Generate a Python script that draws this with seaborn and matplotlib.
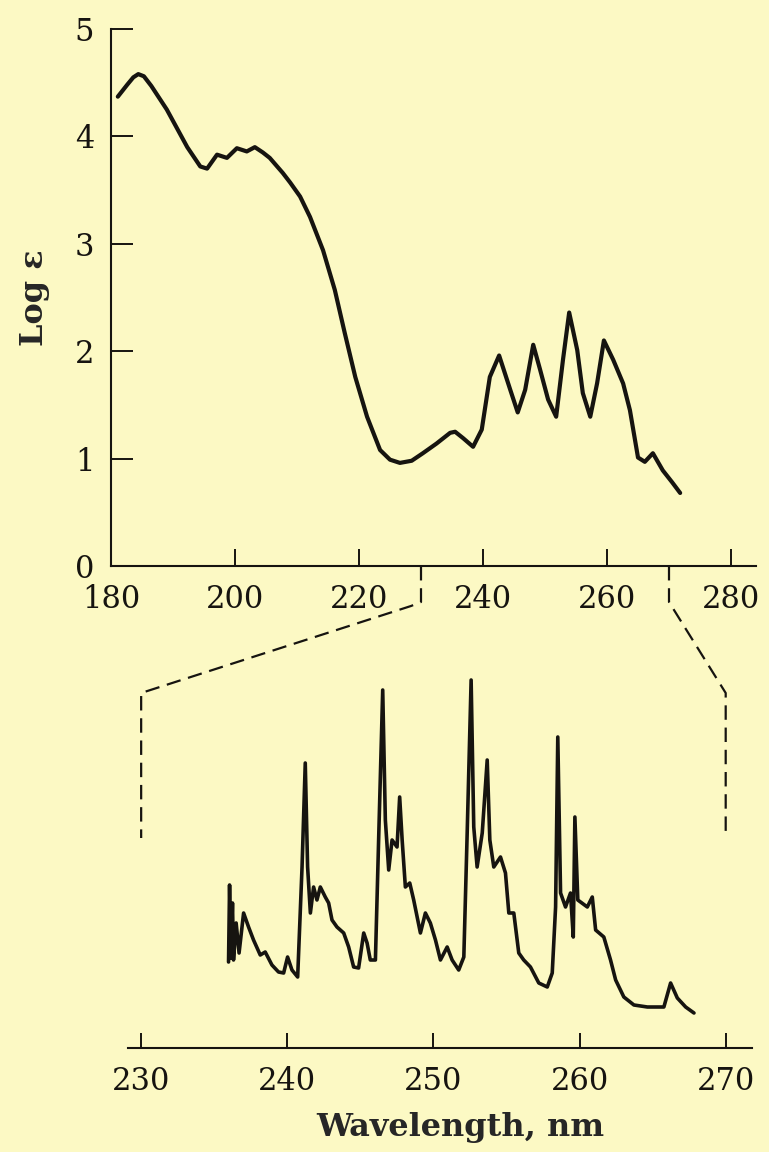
import numpy as np
import pandas as pd
import matplotlib
matplotlib.use("Agg")
import matplotlib.pyplot as plt
from matplotlib.lines import Line2D
import seaborn as sns

# ---------------- data ----------------
# Top panel: log(epsilon) vs wavelength (nm), solution spectrum
top_nm = [181.1, 182.6, 183.6, 184.4, 185.3, 186.5, 189.0, 192.3, 194.4, 195.5,
          197.1, 198.7, 200.3, 201.9, 203.2, 204.5, 205.6, 207.7, 208.9, 210.5,
          212.1, 214.2, 216.1, 217.7, 219.4, 221.3, 223.4, 225.0, 226.6, 228.5,
          230.3, 232.5, 234.7, 235.5, 236.8, 238.4, 239.8, 241.1, 242.6, 244.4,
          245.6, 246.8, 248.1, 249.2, 250.5, 251.8, 252.9, 253.9, 255.2, 256.1,
          257.3, 258.4, 259.5, 261.0, 262.6, 263.7, 265.0, 266.1, 267.4, 269.0,
          270.5, 271.8]
top_loge = [4.37, 4.48, 4.55, 4.58, 4.56, 4.47, 4.25, 3.90, 3.72, 3.70,
            3.83, 3.80, 3.89, 3.86, 3.90, 3.85, 3.80, 3.66, 3.57, 3.44,
            3.25, 2.94, 2.57, 2.17, 1.76, 1.39, 1.08, 0.99, 0.96, 0.98,
            1.05, 1.14, 1.24, 1.25, 1.19, 1.11, 1.27, 1.76, 1.96, 1.64,
            1.43, 1.64, 2.06, 1.83, 1.55, 1.39, 1.92, 2.36, 2.01, 1.61,
            1.39, 1.70, 2.10, 1.92, 1.70, 1.45, 1.01, 0.97, 1.05, 0.89,
            0.78, 0.68]

# Bottom panel: vapour spectrum (relative absorbance, arbitrary units)
vap_nm = [235.98, 236.05, 236.14, 236.25, 236.32, 236.50, 236.70, 237.01, 237.35, 237.69,
          238.15, 238.49, 238.95, 239.40, 239.75, 240.02, 240.32, 240.71, 241.01, 241.23,
          241.39, 241.58, 241.80, 242.03, 242.26, 242.60, 242.83, 243.06, 243.40, 243.86,
          244.20, 244.54, 244.88, 245.23, 245.46, 245.68, 246.03, 246.25, 246.53, 246.71,
          246.94, 247.17, 247.51, 247.69, 247.86, 248.08, 248.38, 248.65, 249.11, 249.45,
          249.79, 250.14, 250.48, 250.94, 251.28, 251.73, 252.08, 252.31, 252.58, 252.76,
          252.99, 253.34, 253.68, 253.86, 254.13, 254.59, 254.93, 255.16, 255.50, 255.84,
          256.18, 256.64, 257.21, 257.79, 258.13, 258.36, 258.51, 258.70, 259.04, 259.38,
          259.57, 259.68, 259.88, 260.53, 260.87, 261.10, 261.66, 262.12, 262.47, 263.03,
          263.72, 264.64, 265.77, 266.23, 266.69, 267.26, 267.83]
vap_abs = [8.6, 16.3, 9.0, 14.5, 8.8, 12.5, 9.5, 13.5, 12.1, 10.8,
           9.3, 9.6, 8.3, 7.6, 7.5, 9.1, 7.8, 7.1, 18.1, 28.5,
           18.1, 13.5, 16.1, 14.8, 16.1, 15.1, 14.5, 12.8, 12.1, 11.5,
           10.1, 8.1, 8.0, 11.5, 10.5, 8.8, 8.8, 20.8, 35.8, 22.8,
           17.8, 20.8, 20.1, 25.1, 20.8, 16.1, 16.5, 14.8, 11.5, 13.5,
           12.5, 10.8, 8.8, 10.1, 8.8, 7.8, 9.1, 21.5, 36.8, 22.1,
           18.1, 21.5, 28.8, 20.8, 18.1, 19.1, 17.5, 13.5, 13.5, 9.5,
           8.8, 8.1, 6.5, 6.1, 7.5, 14.1, 31.1, 15.5, 14.1, 15.5,
           11.1, 23.1, 14.8, 14.1, 15.1, 11.8, 11.1, 8.8, 6.8, 5.1,
           4.3, 4.1, 4.1, 6.5, 5.0, 4.1, 3.5]

top_xticks = [180, 200, 220, 240, 260, 280]
top_yticks = [0, 1, 2, 3, 4, 5]
bot_xticks = [230, 240, 250, 260, 270]
zoom_range = [230, 270]

ylabel_text = "Log \u03b5"
xlabel_text = "Wavelength, nm"

# ---------------- style ----------------
BG = "#fcf9c4"
INK = "#161410"
sns.set_theme(style="ticks")
plt.rcParams["font.family"] = ["DejaVu Serif"]
plt.rcParams["axes.facecolor"] = BG
plt.rcParams["figure.facecolor"] = BG
plt.rcParams["axes.edgecolor"] = INK
plt.rcParams["xtick.color"] = INK
plt.rcParams["ytick.color"] = INK
plt.rcParams["text.color"] = INK

fig = plt.figure(figsize=(7.69, 11.52), dpi=100)
W, H = 769, 1152

# top axes: x 180 at px 111, 6.2 px/nm; y 0 at py 566, 5 at py 29
top_xlim = (180, 284)
ax1 = fig.add_axes([111 / W, (H - 566) / H, (6.2 * (top_xlim[1] - top_xlim[0])) / W, (566 - 29) / H])
# bottom axes: x 229.1..271.8 at px 128..752; y 0 at py 1048
bot_xlim = (229.1, 271.8)
bot_ylim = (0, 39)
ax2 = fig.add_axes([128 / W, (H - 1048) / H, 624 / W, 390 / H])

df_top = pd.DataFrame({"nm": top_nm, "loge": top_loge})
df_vap = pd.DataFrame({"nm": vap_nm, "a": vap_abs})

sns.lineplot(data=df_top, x="nm", y="loge", ax=ax1, color=INK, lw=3.0,
             estimator=None, sort=False)
sns.lineplot(data=df_vap, x="nm", y="a", ax=ax2, color=INK, lw=2.6,
             estimator=None, sort=False)

for a in (ax1, ax2):
    a.set_facecolor(BG)
    for s in ("top", "right"):
        a.spines[s].set_visible(False)
    a.spines["left"].set_linewidth(1.5)
    a.spines["bottom"].set_linewidth(1.5)

ax1.set_xlim(*top_xlim)
ax1.set_ylim(0, 5)
ax1.set_xticks(top_xticks)
ax1.set_yticks(top_yticks)
ax1.tick_params(axis="x", direction="in", length=12, width=1.4, pad=13, labelsize=22)
ax1.tick_params(axis="y", direction="in", length=16, width=1.4, pad=12, labelsize=22)
ax1.set_xlabel("")
ax1.set_ylabel(ylabel_text, fontsize=23, fontweight="bold", labelpad=18)

ax2.set_xlim(*bot_xlim)
ax2.set_ylim(*bot_ylim)
ax2.spines["left"].set_visible(False)
ax2.set_yticks([])
ax2.set_xticks(bot_xticks)
ax2.tick_params(axis="x", direction="in", length=11, width=1.4, pad=13, labelsize=22)
ax2.set_ylabel("")
ax2.set_xlabel(xlabel_text, fontsize=23, fontweight="bold")
ax2.xaxis.set_label_coords(0.532, -0.165)

# ---------------- dashed zoom connectors ----------------
fig.canvas.draw()
to_fig = fig.transFigure.inverted()
drop_px = 36      # vertical drop below the top axis
hook_px = 10      # little hook of the left connector
for i, wl in enumerate(zoom_range):
    p0 = ax1.transData.transform((wl, 0))
    p1 = (p0[0], p0[1] - drop_px)
    b_top = ax2.transData.transform((wl, 35.5))
    b_bot = ax2.transData.transform((wl, 21.0))
    if i == 0:
        pts = [p0, p1, (p1[0] - hook_px, p1[1] - 4), b_top, b_bot]
    else:
        pts = [p0, p1, b_top, b_bot]
    pts = to_fig.transform(np.array(pts, dtype=float))
    fig.add_artist(Line2D(pts[:, 0], pts[:, 1], transform=fig.transFigure,
                          color=INK, lw=1.6, linestyle=(0, (6.5, 3.5))))

fig.savefig("out.png", dpi=100, facecolor=BG)
